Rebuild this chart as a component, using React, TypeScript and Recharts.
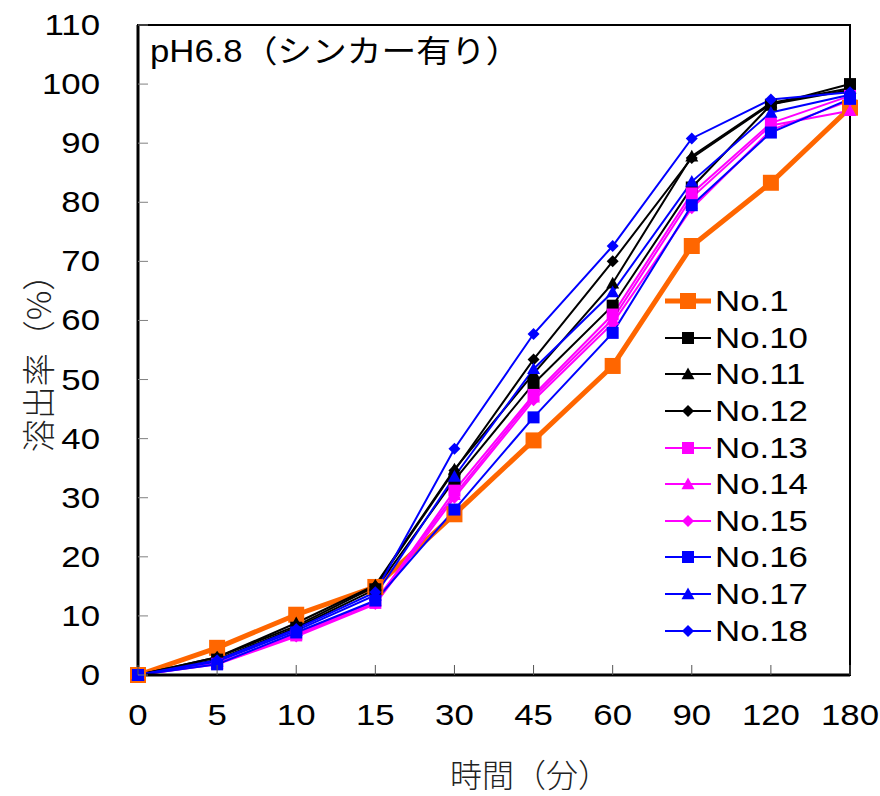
import React from 'react';
import {
  LineChart,
  Line,
  XAxis,
  YAxis,
  Legend,
  ReferenceArea,
} from 'recharts';

// dissolution test, pH6.8 with sinker
const times = ['0', '5', '10', '15', '30', '45', '60', '90', '120', '180'];
const yTicks = [0, 10, 20, 30, 40, 50, 60, 70, 80, 90, 100, 110];

const no1 = [0, 4.6, 10.2, 14.9, 27.2, 39.7, 52.3, 72.6, 83.3, 96.0];
const no10 = [0, 2.6, 8.0, 14.5, 33.0, 49.3, 62.5, 82.5, 96.5, 100.0];
const no11 = [0, 3.0, 8.8, 15.2, 34.8, 51.0, 66.3, 87.8, 96.8, 99.3];
const no12 = [0, 3.0, 8.3, 15.0, 34.6, 53.4, 70.0, 87.5, 96.6, 99.0];
const no13 = [0, 1.9, 6.7, 12.2, 31.2, 47.4, 61.0, 81.5, 93.4, 98.0];
const no14 = [0, 2.0, 6.9, 12.5, 30.5, 47.0, 60.2, 80.8, 93.0, 95.5];
const no15 = [0, 1.8, 6.5, 12.0, 30.0, 46.5, 59.5, 79.0, 92.2, 97.2];
const no16 = [0, 1.8, 7.2, 12.6, 28.0, 43.6, 57.9, 79.5, 91.8, 97.5];
const no17 = [0, 2.3, 7.5, 13.5, 33.6, 51.8, 64.8, 83.5, 95.2, 98.2];
const no18 = [0, 2.5, 7.8, 14.0, 38.3, 57.7, 72.6, 90.8, 97.4, 98.6];

type Shape = 'square' | 'triangle' | 'diamond';

const series = [
  { key: 'No.1', values: no1, color: '#FF6600', shape: 'square' as Shape, width: 5, size: 16 },
  { key: 'No.10', values: no10, color: '#000000', shape: 'square' as Shape, width: 2, size: 12 },
  { key: 'No.11', values: no11, color: '#000000', shape: 'triangle' as Shape, width: 2, size: 13 },
  { key: 'No.12', values: no12, color: '#000000', shape: 'diamond' as Shape, width: 2, size: 12 },
  { key: 'No.13', values: no13, color: '#FF00FF', shape: 'square' as Shape, width: 2, size: 12 },
  { key: 'No.14', values: no14, color: '#FF00FF', shape: 'triangle' as Shape, width: 2, size: 13 },
  { key: 'No.15', values: no15, color: '#FF00FF', shape: 'diamond' as Shape, width: 2, size: 12 },
  { key: 'No.16', values: no16, color: '#0000FF', shape: 'square' as Shape, width: 2, size: 12 },
  { key: 'No.17', values: no17, color: '#0000FF', shape: 'triangle' as Shape, width: 2, size: 13 },
  { key: 'No.18', values: no18, color: '#0000FF', shape: 'diamond' as Shape, width: 2, size: 12 },
];

const data = times.map((t, i) => {
  const row: Record<string, any> = { time: t };
  series.forEach((s) => (row[s.key] = s.values[i]));
  return row;
});

const FONT = '"Liberation Sans", Arial, sans-serif';
const JP = '"Noto Sans CJK JP", sans-serif';

const marker = (shape: Shape, cx: number, cy: number, size: number, color: string, key?: any) => {
  const h = size / 2;
  if (shape === 'square') {
    return <rect key={key} x={cx - h} y={cy - h} width={size} height={size} fill={color} />;
  }
  if (shape === 'triangle') {
    return (
      <polygon
        key={key}
        points={`${cx},${cy - h} ${cx + h},${cy + h * 0.8} ${cx - h},${cy + h * 0.8}`}
        fill={color}
      />
    );
  }
  return (
    <polygon
      key={key}
      points={`${cx},${cy - h} ${cx + h},${cy} ${cx},${cy + h} ${cx - h},${cy}`}
      fill={color}
    />
  );
};

const YTick = (props: any) => {
  const { x, y, payload } = props;
  return (
    <g>
      <line x1={x + 38} x2={x + 48} y1={y} y2={y} stroke="#808080" strokeWidth={1} />
      <text
        transform={`translate(${x},${y}) scale(1.2,1)`}
        textAnchor="end"
        dominantBaseline="central"
        fontSize={29}
        fontFamily={FONT}
        fill="#000"
      >
        {payload.value}
      </text>
    </g>
  );
};

const XTick = (props: any) => {
  const { x, y, payload } = props;
  return (
    <g>
      <line x1={x} x2={x} y1={y - 30} y2={y - 40} stroke="#555" strokeWidth={1} />
      <text
        transform={`translate(${x},${y + 10}) scale(1.2,1)`}
        textAnchor="middle"
        dominantBaseline="central"
        fontSize={29}
        fontFamily={FONT}
        fill="#000"
      >
        {payload.value}
      </text>
    </g>
  );
};

const LegendBox = () => (
  <div style={{ fontFamily: FONT }}>
    {series.map((s) => (
      <div key={s.key} style={{ display: 'flex', alignItems: 'center', height: 36.6 }}>
        <svg width={52} height={30}>
          <line x1={2} x2={48} y1={15} y2={15} stroke={s.color} strokeWidth={s.width} />
          {marker(s.shape, 25, 15, s.size, s.color)}
        </svg>
        <span
          style={{
            fontSize: 29,
            display: 'inline-block',
            transform: 'scale(1.2,1)',
            transformOrigin: 'left center',
            lineHeight: '30px',
          }}
        >
          {s.key}
        </span>
      </div>
    ))}
  </div>
);

export default function App() {
  return (
    <div
      style={{
        position: 'absolute',
        left: 0,
        top: 0,
        width: 880,
        height: 796,
        background: '#fff',
        fontFamily: FONT,
      }}
    >
      <LineChart width={880} height={796} data={data} margin={{ top: 25, right: 30, bottom: 0, left: 0 }}>
        <ReferenceArea
          x1="0"
          x2="180"
          y1={0}
          y2={110}
          fill="none"
          stroke="#000"
          strokeWidth={2}
          ifOverflow="visible"
        />
        <XAxis
          dataKey="time"
          type="category"
          height={121}
          tickLine={false}
          tickSize={0}
          tickMargin={30}
          axisLine={{ stroke: '#000', strokeWidth: 3 }}
          tick={<XTick />}
          interval={0}
        />
        <YAxis
          type="number"
          domain={[0, 110]}
          ticks={yTicks}
          width={138}
          tickLine={false}
          tickSize={0}
          tickMargin={38}
          axisLine={{ stroke: '#000', strokeWidth: 3 }}
          tick={<YTick />}
          interval={0}
        />
        <Legend
          layout="vertical"
          align="center"
          verticalAlign="middle"
          content={<LegendBox />}
          wrapperStyle={{ left: 663, top: 283, width: 200 }}
        />
        {series.map((s) => (
          <Line
            key={s.key}
            type="linear"
            dataKey={s.key}
            stroke={s.color}
            strokeWidth={s.width}
            isAnimationActive={false}
            activeDot={false}
            dot={(p: any) => marker(s.shape, p.cx, p.cy, s.size, s.color, p.key ?? `${s.key}-${p.index}`)}
          />
        ))}
      </LineChart>
      <div
        style={{
          position: 'absolute',
          left: 150,
          top: 33,
          fontSize: 31,
          lineHeight: '38px',
          fontFamily: `${FONT}, ${JP}`,
          whiteSpace: 'nowrap',
          transform: 'scale(1.12,1)',
          transformOrigin: 'left center',
        }}
      >
        pH6.8（シンカー有り）
      </div>
      <div
        style={{
          position: 'absolute',
          left: 37,
          top: 355,
          transform: 'translate(-50%, -50%) rotate(-90deg)',
          fontSize: 33,
          fontFamily: JP,
          fontWeight: 300,
          color: '#222',
          whiteSpace: 'nowrap',
        }}
      >
        溶出率（%）
      </div>
      <div
        style={{
          position: 'absolute',
          left: 530,
          top: 773,
          transform: 'translate(-50%, -50%)',
          fontSize: 32,
          fontFamily: JP,
          fontWeight: 300,
          color: '#222',
          whiteSpace: 'nowrap',
        }}
      >
        時間（分）
      </div>
    </div>
  );
}
